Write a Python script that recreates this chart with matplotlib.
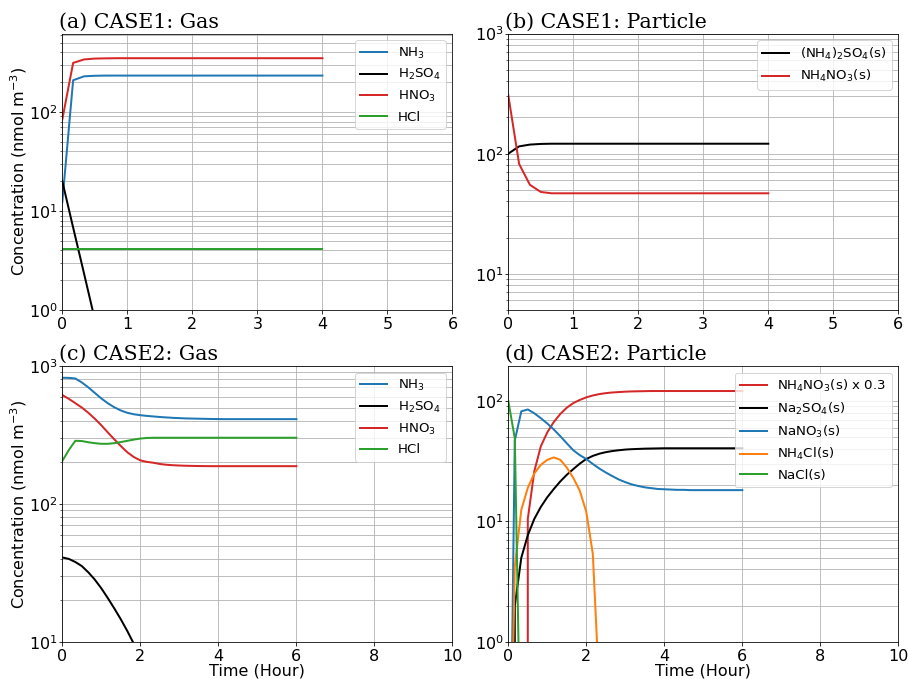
import numpy as np
import matplotlib
matplotlib.use("Agg")
import matplotlib.pyplot as plt

# ---------------- Case 1 (time step 1/6 hour, 0..4 h) ----------------
time1 = np.arange(25) / 6.0
nh3_1 = [12.3, 209, 229, 232, 233] + [233] * 20
hno3_1 = [84, 313, 339, 346, 348] + [349] * 20
h2so4_1 = [20, 6.8, 2.35, 0.80, 0.27, 0.092, 0.031, 0.011]
hcl_1 = [4.1] * 25
nh42so4_1 = [100, 115, 119, 120.5, 121] + [121] * 20
nh4no3_1 = [306, 82, 55, 48, 46.8] + [46.8] * 20

# ---------------- Case 2 (time step 1/6 hour, 0..6 h) ----------------
time2 = np.arange(37) / 6.0
nh3_2 = [822, 820, 812, 760, 700, 638, 582, 537, 502, 476, 458, 447, 440,
         435, 431, 427, 424, 421, 419, 417, 416, 415, 414, 413, 412.5] + [412] * 12
hno3_2 = [616, 578, 538, 500, 458, 415, 372, 330, 294, 263, 237, 219, 207,
          202, 199, 195, 192.5, 191, 190, 189.3, 188.8, 188.4, 188.2, 188] + [188] * 13
hcl_2 = [205, 246, 287, 286, 280, 276, 273, 273, 276, 281, 287, 293, 298,
         301, 302] + [302] * 22
h2so4_2 = [41, 40, 38, 35.5, 32, 28.3, 24.5, 20.8, 17.5, 14.6, 12, 9.7,
           7.8, 6.2, 4.9]

nh4no3_2 = [0, 0, 0, 35, 87, 140, 183, 223, 260, 293, 320, 340, 357, 370,
            380, 387, 392, 395, 398, 400, 401, 402, 403] + [403] * 14
nh4no3_scale = 0.3
na2so4_2 = [0, 2.0, 5.0, 7.7, 10.5, 13.2, 15.9, 18.6, 21.5, 24.4, 27.2, 30.2,
            33.0, 35.0, 36.5, 37.6, 38.4, 39.0, 39.5, 39.8, 40.0, 40.2, 40.3,
            40.4, 40.5] + [40.5] * 12
nano3_2 = [0.003, 47, 82, 85, 79, 72, 65, 58, 51, 44.5, 39, 35.5, 33, 30,
           27.5, 25.5, 23.8, 22.3, 21.2, 20.3, 19.7, 19.2, 18.9, 18.6, 18.5,
           18.4, 18.3, 18.3, 18.2] + [18.2] * 8
nh4cl_2 = [0.006, 4.2, 12.5, 19, 25, 29.5, 32.5, 34, 32.5, 28, 23, 18, 12,
           5.4, 0.4] + [0] * 22
nacl_2 = [100, 49, 0.05] + [0] * 34

BLUE, RED, GREEN, ORANGE, BLACK = '#1f77b4', '#d62728', '#2ca02c', '#ff7f0e', 'k'

DPI = 72
W, H = 908, 679
plt.rcParams['font.size'] = 16
plt.rcParams['lines.linewidth'] = 2
fig = plt.figure(figsize=(W / DPI, H / DPI), dpi=DPI)

def make_ax(l, r, t, b):
    return fig.add_axes([l / W, 1 - b / H, (r - l) / W, (b - t) / H])

ax_a = make_ax(62.3, 452.5, 33.5, 310)
ax_b = make_ax(508.3, 898.3, 33.5, 310)
ax_c = make_ax(62.3, 452.5, 366, 642)
ax_d = make_ax(508.3, 898.3, 366, 642)

TICK_FS = 16
LAB_FS = 16
LEG_FS = 13.33
TITLE_FS = 20.5

def style(ax, title, xlim, xticks, ylim):
    ax.set_yscale('log')
    ax.set_xlim(*xlim)
    ax.set_xticks(xticks)
    ax.set_ylim(*ylim)
    ax.grid(True, which='both', color='#b0b0b0', linewidth=0.8)
    ax.set_axisbelow(True)
    ax.tick_params(labelsize=TICK_FS)
    ax.tick_params(axis='y', which='major', pad=1)
    t = ax.set_title(title, loc='left', fontfamily='DejaVu Serif', fontsize=TITLE_FS)
    t.set_x(-3.0 / 390.0)
    ax.legend(loc='upper right', fontsize=LEG_FS)

# (a)
ax_a.plot(time1, nh3_1, color=BLUE, label=r'NH$_3$')
ax_a.plot(time1[:len(h2so4_1)], h2so4_1, color=BLACK, label=r'H$_2$SO$_4$')
ax_a.plot(time1, hno3_1, color=RED, label=r'HNO$_3$')
ax_a.plot(time1, hcl_1, color=GREEN, label='HCl')
style(ax_a, '(a) CASE1: Gas', (0, 6), range(0, 7), (1, 620))
ax_a.set_ylabel(r'Concentration (nmol m$^{-3}$)', fontsize=LAB_FS, labelpad=0)

# (b)
ax_b.plot(time1, nh42so4_1, color=BLACK, label=r'(NH$_4$)$_2$SO$_4$(s)')
ax_b.plot(time1, nh4no3_1, color=RED, label=r'NH$_4$NO$_3$(s)')
style(ax_b, '(b) CASE1: Particle', (0, 6), range(0, 7), (5, 1000))

# (c)
ax_c.plot(time2, nh3_2, color=BLUE, label=r'NH$_3$')
ax_c.plot(time2[:len(h2so4_2)], h2so4_2, color=BLACK, label=r'H$_2$SO$_4$')
ax_c.plot(time2, hno3_2, color=RED, label=r'HNO$_3$')
ax_c.plot(time2, hcl_2, color=GREEN, label='HCl')
style(ax_c, '(c) CASE2: Gas', (0, 10), range(0, 11, 2), (10, 1000))
ax_c.set_ylabel(r'Concentration (nmol m$^{-3}$)', fontsize=LAB_FS, labelpad=0)
ax_c.set_xlabel('Time (Hour)', fontsize=LAB_FS, labelpad=0)

# (d)
ax_d.plot(time2, np.array(nh4no3_2) * nh4no3_scale, color=RED,
          label=r'NH$_4$NO$_3$(s) x 0.3')
ax_d.plot(time2, na2so4_2, color=BLACK, label=r'Na$_2$SO$_4$(s)')
ax_d.plot(time2, nano3_2, color=BLUE, label=r'NaNO$_3$(s)')
ax_d.plot(time2, nh4cl_2, color=ORANGE, label=r'NH$_4$Cl(s)')
ax_d.plot(time2, nacl_2, color=GREEN, label='NaCl(s)')
style(ax_d, '(d) CASE2: Particle', (0, 10), range(0, 11, 2), (1, 195))
ax_d.set_xlabel('Time (Hour)', fontsize=LAB_FS, labelpad=0)

fig.savefig('out.png', dpi=DPI)
